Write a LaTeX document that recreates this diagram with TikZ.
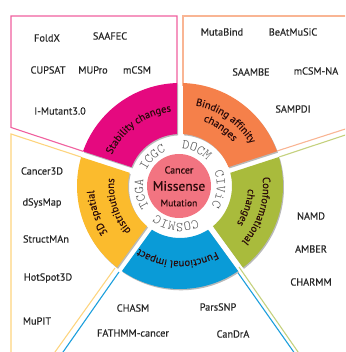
\documentclass[tikz,border=0pt]{standalone}
\usepackage{fontspec}
\setmainfont{PT Sans}
\newfontfamily\toolfont[FakeBold=0.4]{PT Sans}
\newfontfamily\labfont[FakeBold=0.2]{PT Sans}
\newfontfamily\ringfont{lmmonolt10-regular.otf}
\usetikzlibrary{calc,decorations.text}
\definecolor{cMag}{HTML}{E5097F}
\definecolor{cOrange}{HTML}{F5804A}
\definecolor{cGreen}{HTML}{A9BB3C}
\definecolor{cBlue}{HTML}{0A9BD7}
\definecolor{cYellow}{HTML}{FBBB2D}
\definecolor{cPink}{HTML}{F27481}
\definecolor{lPink}{HTML}{F0609E}
\definecolor{lOrange}{HTML}{F9B594}
\definecolor{lGreen}{HTML}{C5D17E}
\definecolor{lBlue}{HTML}{1C9FDC}
\definecolor{lYellow}{HTML}{FDD47E}
\definecolor{cDark}{HTML}{2A0A0A}
\definecolor{ringgray}{HTML}{505050}
\newcommand\secpath[3]{($(#1)+({#2+1.67}:103)$) arc[start angle={#2+1.67}, end angle={#3-1.67}, radius=103] -- ($(#1)+({#3-3.31}:52)$) arc[start angle={#3-3.31}, end angle={#2+3.31}, radius=52] -- cycle}
\newcommand\mysector[3]{%
  \fill[gray!55] \secpath{Cs}{#1}{#2};
  \fill[#3] \secpath{C}{#1}{#2};}
\newcommand\arctext[5]{% center angle, radius, text, size, halfspan
  \path[decorate,decoration={text along path,text align=center,
    text={|\labfont\fontsize{#4}{#4}\selectfont\color{cDark}|#3}}]
    ($(C)+({#1+#5}:#2)$) arc[start angle={#1+#5}, end angle={#1-#5}, radius=#2];}
\newcommand\ringtext[2]{% center angle, text
  \path[decorate,decoration={text along path,text align=center,
    text={|\ringfont\fontsize{13.5}{13.5}\selectfont\color{ringgray}|#2}}]
    ($(C)+({#1+60}:37)$) arc[start angle={#1+60}, end angle={#1-60}, radius=37];}
\tikzset{
  boxline/.style={line width=1.1pt},
  tool/.style={font=\toolfont\fontsize{10.3}{10.3}\selectfont, text=black!85, inner sep=0pt}
}
\begin{document}
\begin{tikzpicture}[x=1pt,y=1pt]
\useasboundingbox (0,0) rectangle (345,352);
\clip (0,0) rectangle (345,352);
\coordinate (C) at (180,166);
\coordinate (Cs) at (181,164.7);
% outlines
\draw[boxline,lPink] (177,266) -- (177,336) -- (11,336) -- (11,224.5) -- (83,200.7);
\draw[boxline,lOrange] (183,266) -- (183,336) -- (350,336);
\draw[boxline,lOrange] (277,201) -- (350,224.5);
\draw[boxline,lGreen] (279,195) -- (350,218.5);
\draw[boxline,lGreen] (239,85) -- (300.5,-3.5);
\draw[boxline,lBlue] (236,82) -- (296.2,-3.5);
\draw[boxline,lBlue] (119,80) -- (60.6,-3.5);
\draw[boxline,lYellow] (115,84) -- (52.5,-3.5);
\draw[boxline,lYellow] (81,195) -- (11,218) -- (11,-3);
% sectors
\mysector{90}{162}{cMag}
\mysector{18}{90}{cOrange}
\mysector{-54}{18}{cGreen}
\mysector{-126}{-54}{cBlue}
\mysector{162}{234}{cYellow}
% center
\fill[cPink] (179,166) circle[radius=32];
\node[font=\labfont\fontsize{10}{10}\selectfont, text=cDark] (cancer) at (179,182) {Cancer};
\node[font=\toolfont\fontsize{13.5}{13.5}\selectfont, text=cDark] (missense) at (179,166) {Missense};
\node[font=\labfont\fontsize{9.5}{9.5}\selectfont, text=cDark] (mutation) at (179,149) {Mutation};
% ring labels
\ringtext{134}{ICGC}
\ringtext{65}{DOCM}
\ringtext{-5}{CIViC}
\ringtext{-96}{COSMIC}
\ringtext{192}{TCGA}
% sector labels
\arctext{126}{75}{Stability changes}{10.5}{60}
\arctext{55}{82}{Binding affinity}{10.5}{60}
\arctext{55}{69}{changes}{10.5}{60}
\arctext{-18}{83}{Conformational}{10.5}{60}
\arctext{-18}{68}{changes}{10.5}{60}
\arctext{-92}{75}{Functional impact}{10.5}{60}
\arctext{198}{86}{3D spatial}{10.5}{60}
\arctext{198}{66}{distributions}{10.5}{60}
% tools
\node[tool] (foldx) at (47,314) {FoldX};
\node[tool] (saafec) at (110,316) {SAAFEC};
\node[tool] (cupsat) at (48,282) {CUPSAT};
\node[tool] (mupro) at (93,282) {MUPro};
\node[tool] (mcsm) at (137,282) {mCSM};
\node[tool] (imut) at (60,241) {I-Mutant3.0};
\node[tool] (mutabind) at (222,320) {MutaBind};
\node[tool] (beat) at (293,320) {BeAtMuSiC};
\node[tool] (saambe) at (251,280) {SAAMBE};
\node[tool] (mcsmna) at (316,281) {mCSM-NA};
\node[tool] (sampdi) at (293,243) {SAMPDI};
\node[tool] (namd) at (311,136) {NAMD};
\node[tool] (amber) at (311,103) {AMBER};
\node[tool] (charmm) at (311,70) {CHARMM};
\node[tool] (chasm) at (133,44) {CHASM};
\node[tool] (fathmm) at (133,19) {FATHMM-cancer};
\node[tool] (parssnp) at (218,45) {ParsSNP};
\node[tool] (candra) at (233,18) {CanDrA};
\node[tool] (c3d) at (42,181) {Cancer3D};
\node[tool] (dsys) at (42,149) {dSysMap};
\node[tool] (struct) at (46,113) {StructMAn};
\node[tool] (hot) at (48,74) {HotSpot3D};
\node[tool] (mupit) at (37,31) {MuPIT};
\end{tikzpicture}
\end{document}
